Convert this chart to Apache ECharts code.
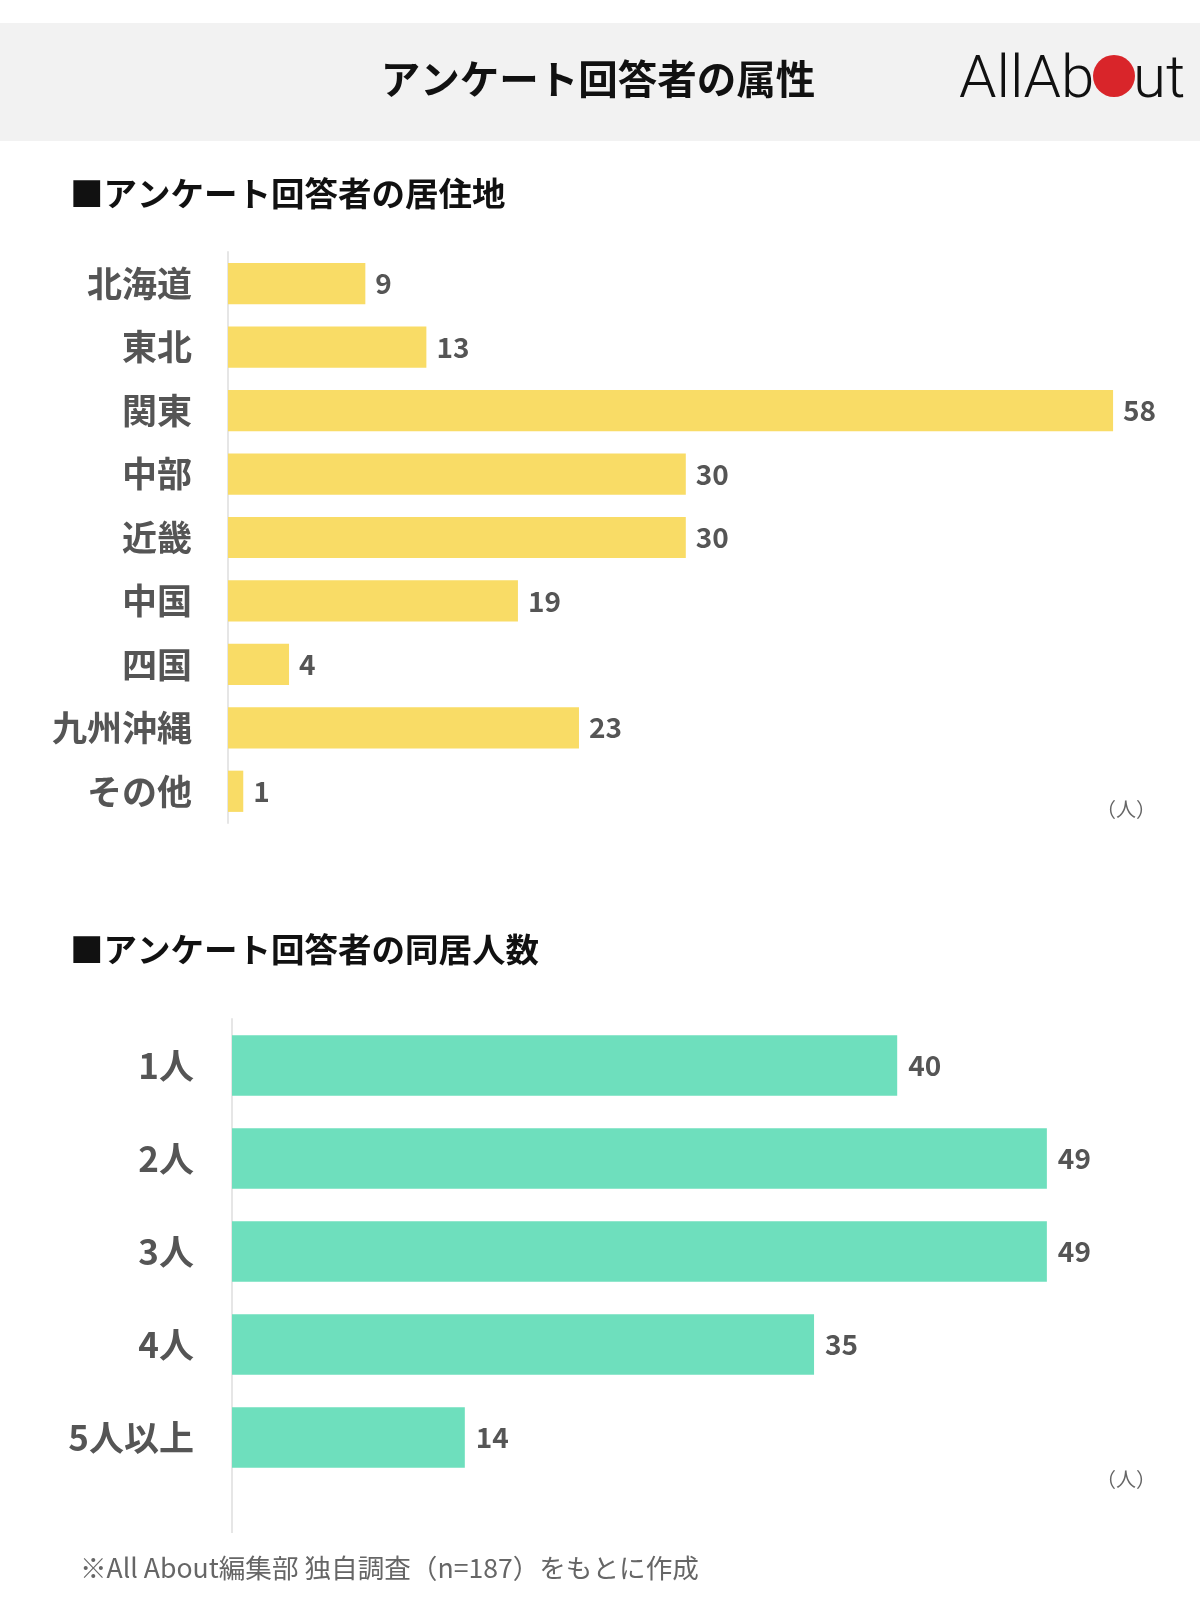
<!DOCTYPE html>
<html><head><meta charset="utf-8">
<script src="https://cdn.jsdelivr.net/npm/echarts@6/dist/echarts.min.js"></script>
<style>html,body{margin:0;padding:0;background:#fff}#c{width:1200px;height:1605px}</style>
</head><body><div id="c"></div>
<script>
const regionCategories = ['北海道','東北','関東','中部','近畿','中国','四国','九州沖縄','その他'];
const regionValues = [9, 13, 58, 30, 30, 19, 4, 23, 1];
const householdCategories = ['1人','2人','3人','4人','5人以上'];
const householdValues = [40, 49, 49, 35, 14];

const FONT = '"Noto Sans CJK JP", "Noto Sans", sans-serif';
const chart = echarts.init(document.getElementById('c'), null, {renderer: 'canvas'});

function catAxis(idx, cats, margin) {
  return {
    type: 'category', gridIndex: idx, data: cats, inverse: true,
    axisLine: {show: true, lineStyle: {color: '#e6e6e6', width: 2}},
    axisTick: {show: false},
    axisLabel: {color: '#555', fontSize: 35, fontWeight: 'bold', fontFamily: FONT, margin: margin}
  };
}
function valAxis(idx, max) {
  return {type: 'value', gridIndex: idx, min: 0, max: max, show: false, splitLine: {show: false}};
}
function barSeries(idx, vals, color, dist) {
  return {
    type: 'bar', xAxisIndex: idx, yAxisIndex: idx, data: vals,
    barCategoryGap: '35%', itemStyle: {color: color},
    label: {show: true, position: 'right', distance: dist, color: '#555', fontSize: 28,
            fontWeight: 'bold', fontFamily: FONT},
    silent: true, animation: false
  };
}

chart.setOption({
  animation: false,
  backgroundColor: '#fff',
  grid: [
    {left: 228, top: 252, width: 15.26 * 60, height: 571, containLabel: false, outerBoundsMode: 'none'},
    {left: 232, top: 1019, width: 16.63 * 50, height: 465, containLabel: false, outerBoundsMode: 'none'}
  ],
  xAxis: [valAxis(0, 60), valAxis(1, 50)],
  yAxis: [catAxis(0, regionCategories, 36), catAxis(1, householdCategories, 38)],
  series: [
    barSeries(0, regionValues, '#f9dc66', 10),
    barSeries(1, householdValues, '#6edfbd', 11)
  ],
  graphic: [
    {type: 'rect', shape: {x: 0, y: 23, width: 1200, height: 118}, style: {fill: '#f2f2f2'}, z: -10},
    {type: 'text', x: 598, y: 79, style: {text: 'アンケート回答者の属性', font: 'bold 39.5px ' + FONT,
      fill: '#111', textAlign: 'center', textVerticalAlign: 'middle'}},
    {type: 'text', x: 959, y: 112, scaleX: 1.0, style: {text: 'AllAb', font: '300 60px Roboto, "DejaVu Sans", sans-serif',
      fill: '#111', textAlign: 'left', textVerticalAlign: 'bottom'}},
    {type: 'circle', shape: {cx: 1114, cy: 76, r: 21}, style: {fill: '#d9252a'}},
    {type: 'text', x: 1133, y: 112, scaleX: 1.0, style: {text: 'ut', font: '300 60px Roboto, "DejaVu Sans", sans-serif',
      fill: '#111', textAlign: 'left', textVerticalAlign: 'bottom'}},
    {type: 'text', x: 70, y: 193, style: {text: '■アンケート回答者の居住地', font: 'bold 33.5px ' + FONT,
      fill: '#111', textAlign: 'left', textVerticalAlign: 'middle'}},
    {type: 'text', x: 1156, y: 809, style: {text: '（人）', font: '20px ' + FONT,
      fill: '#666', textAlign: 'right', textVerticalAlign: 'middle'}},
    {type: 'text', x: 70, y: 949, style: {text: '■アンケート回答者の同居人数', font: 'bold 33.5px ' + FONT,
      fill: '#111', textAlign: 'left', textVerticalAlign: 'middle'}},
    {type: 'line', shape: {x1: 232, y1: 1484, x2: 232, y2: 1533}, style: {stroke: '#e6e6e6', lineWidth: 2}},
    {type: 'text', x: 1156, y: 1479, style: {text: '（人）', font: '20px ' + FONT,
      fill: '#666', textAlign: 'right', textVerticalAlign: 'middle'}},
    {type: 'text', x: 80, y: 1568, style: {text: '※All About編集部 独自調査（n=187）をもとに作成', font: '26.6px ' + FONT,
      fill: '#666', textAlign: 'left', textVerticalAlign: 'middle'}}
  ]
});
</script>
</body></html>
